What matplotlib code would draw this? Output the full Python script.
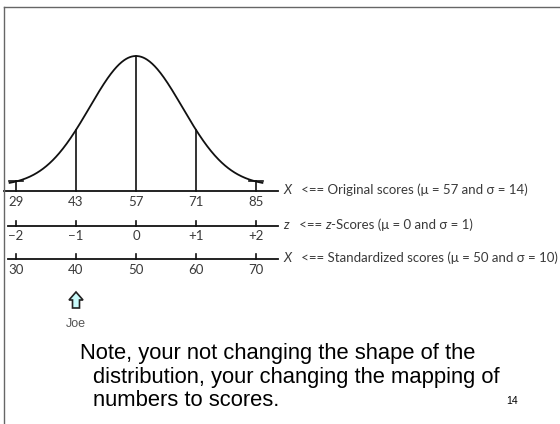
import matplotlib
matplotlib.use("Agg")
import matplotlib.pyplot as plt
from matplotlib.patches import FancyArrow
import numpy as np

# scale values
mu, sigma = 57, 14
z_ticks = [-2, -1, 0, 1, 2]
z_labels = ["\u22122", "\u22121", "0", "+1", "+2"]
orig_ticks = [29, 43, 57, 71, 85]
std_mu, std_sigma = 50, 10
std_ticks = [30, 40, 50, 60, 70]
joe_std = 40

note_lines = ["Note, your not changing the shape of the",
              "distribution, your changing the mapping of",
              "numbers to scores."]
slide_no = "14"

W, H = 560, 424
fig = plt.figure(figsize=(W / 100, H / 100), dpi=100)
ax = fig.add_axes([0, 0, 1, 1])
ax.axis("off")

# x in original-score units, y in pixel rows
px_per_unit = 60 / 14
x0 = 29 - 16 / px_per_unit
ax.set_xlim(x0, x0 + W / px_per_unit)
ax.set_ylim(H, 0)

y_orig, y_z, y_std = 191, 226, 259
x_end = 90.1
lc = "#111111"
tc = "#3a3a3a"
tick_font = ["Lato", "DejaVu Sans"]
fs = 9.5

# bell curve (drawn shape)
shape_sd, amp, lift = 10.8, 130, 5
xs = np.linspace(27.3, 86.7, 400)
curve = lambda x: y_orig - lift - amp * np.exp(-0.5 * ((x - mu) / shape_sd) ** 2)
ax.plot(xs, curve(xs), color=lc, lw=1.3, solid_capstyle="butt")

# original scores axis
ax.plot([x0 + 4 / px_per_unit, x_end], [y_orig, y_orig], color=lc, lw=1.3)
for t in orig_ticks:
    ax.plot([t, t], [y_orig, curve(t)], color=lc, lw=1.2)
    ax.text(t, y_orig + 11, str(t), ha="center", va="center", fontsize=fs,
            color=tc, family=tick_font)
for t in (orig_ticks[0], orig_ticks[-1]):
    ax.plot([t - 1.6, t + 1.6], [curve(t), curve(t)], color=lc, lw=1.2)

# z axis
z_pos = [mu + z * sigma for z in z_ticks]
ax.plot([x0 + 8 / px_per_unit, x_end], [y_z, y_z], color=lc, lw=1.3)
for p, lab in zip(z_pos, z_labels):
    ax.plot([p, p], [y_z, y_z - 5], color=lc, lw=1.2)
    ax.text(p, y_z + 10, lab, ha="center", va="center", fontsize=fs,
            color=tc, family=tick_font)

# standardized axis
s_pos = [mu + (s - std_mu) / std_sigma * sigma for s in std_ticks]
ax.plot([x0 + 8 / px_per_unit, x_end], [y_std, y_std], color=lc, lw=1.3)
for p, lab in zip(s_pos, std_ticks):
    ax.plot([p, p], [y_std, y_std - 5], color=lc, lw=1.2)
    ax.text(p, y_std + 11, str(lab), ha="center", va="center", fontsize=fs,
            color=tc, family=tick_font)

# right-hand labels
lab_x = x_end + 1.2
for y, sym, rest in [(y_orig, "X", ["   <== Original scores (\u03bc = %d and \u03c3 = %d)" % (mu, sigma)]),
                     (y_z, "z", ["   <== ", "z", "-Scores (\u03bc = 0 and \u03c3 = 1)"]),
                     (y_std, "X", ["   <== Standardized scores (\u03bc = %d and \u03c3 = %d)" % (std_mu, std_sigma)])]:
    prev = ax.text(lab_x, y - 1, sym, ha="left", va="center", fontsize=fs,
                   color=tc, style="italic", family=tick_font)
    for part in rest:
        prev = ax.annotate(part, xy=(1, 0), xycoords=prev, ha="left", va="bottom",
                           fontsize=fs, color=tc, family=tick_font,
                           style="italic" if part == "z" else "normal")

# Joe's arrow
joe_x = mu + (joe_std - std_mu) / std_sigma * sigma
ax.add_patch(FancyArrow(joe_x, 308, 0, -16, width=7 / px_per_unit,
                        head_width=14 / px_per_unit, head_length=8,
                        length_includes_head=True, facecolor="#c9fbfb",
                        edgecolor="#222222", lw=1.2))
ax.text(joe_x, 324, "Joe", ha="center", va="center", fontsize=9,
        color="#555555", family=["Liberation Sans"])

# note text
note_kw = dict(ha="left", va="center", fontsize=15.8, family=["Liberation Sans"], color="black")
fig.text(80 / W, 1 - 353 / H, note_lines[0], **note_kw)
fig.text(93 / W, 1 - 377 / H, note_lines[1], **note_kw)
fig.text(93 / W, 1 - 400 / H, note_lines[2], **note_kw)
fig.text(512 / W, 1 - 401 / H, slide_no, ha="center", va="center",
         fontsize=7.5, family=["Liberation Sans"], color="black")

# slide frame
fig.add_artist(plt.Line2D([4 / W, 4 / W], [0, 1 - 7 / H], transform=fig.transFigure,
                          color="#666666", lw=1))
fig.add_artist(plt.Line2D([4 / W, 1], [1 - 7 / H, 1 - 7 / H], transform=fig.transFigure,
                          color="#666666", lw=1))

fig.savefig("out.png", dpi=100)
